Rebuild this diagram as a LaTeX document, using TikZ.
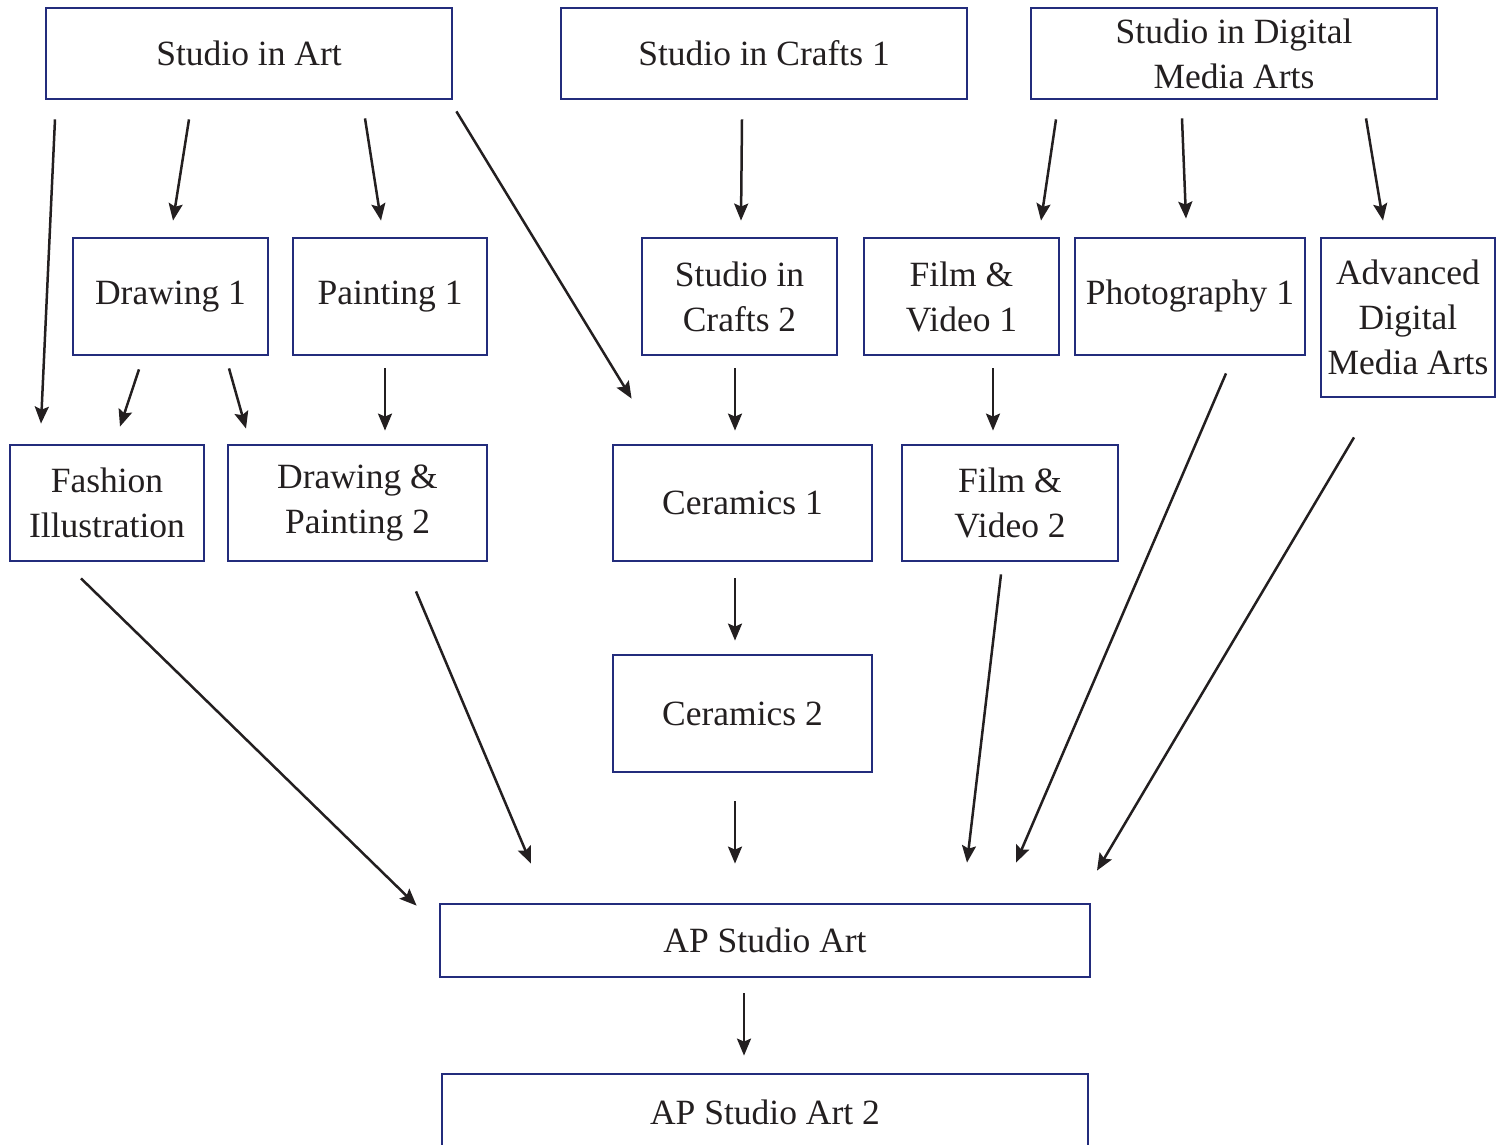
\documentclass[tikz,border=0pt]{standalone}
\usepackage{fontspec}
\setmainfont{Liberation Serif}
\usetikzlibrary{arrows.meta}
\definecolor{boxblue}{HTML}{232C7C}
\definecolor{inkgray}{HTML}{231F20}

\begin{document}
\begin{tikzpicture}[x=1pt, y=-1pt,
            course/.style={draw=boxblue, line width=2.8pt, align=center, text=inkgray, inner sep=2pt,
                font=\fontsize{35.5}{45}\selectfont},
            arr/.style={-{Stealth[length=17pt, width=14pt, inset=3pt]}, line width=2.5pt, draw=inkgray}]
            \useasboundingbox (0,0) rectangle (1505,1145);

            \node[course, minimum width=406, minimum height=91] (art) at (249,53.5) {Studio in Art};
            \node[course, minimum width=406, minimum height=91] (craftsone) at (764,53.5) {Studio in Crafts 1};
            \node[course, minimum width=406, minimum height=91] (digital) at (1234,53.5) {Studio in Digital\\Media Arts};

            \node[course, minimum width=195, minimum height=117] (drawone) at (170.5,296.5) {Drawing 1};
            \node[course, minimum width=194, minimum height=117] (paintone) at (390,296.5) {Painting 1};
            \node[course, minimum width=195, minimum height=117] (craftstwo) at (739.5,296.5) {Studio in\\Crafts 2};
            \node[course, minimum width=195, minimum height=117] (filmone) at (961.5,296.5) {Film \&\\Video 1};
            \node[course, minimum width=230, minimum height=117] (photo) at (1190,296.5) {Photography 1};
            \node[course, minimum width=174, minimum height=159] (adv) at (1408,317.5) {Advanced\\Digital\\Media Arts};

            \node[course, minimum width=194, minimum height=116] (fash) at (107,503) {Fashion\\Illustration};
            \node[course, minimum width=259, minimum height=116] (drawpaint) at (357.5,503) {Drawing \&\\Painting 2};
            \node[course, minimum width=259, minimum height=116] (ceramone) at (742.5,503) {Ceramics 1};
            \node[course, minimum width=216, minimum height=116] (filmtwo) at (1010,503) {Film \&\\Video 2};
            \node[course, minimum width=259, minimum height=117] (ceramtwo) at (742.5,713.5) {Ceramics 2};

            \node[course, minimum width=650, minimum height=73] (ap) at (765,940.5) {AP Studio Art};
            \node[course, minimum width=646, minimum height=76] (aptwo) at (765,1112) {AP Studio Art 2};

            \draw[arr] ([xshift=-194pt, yshift=-19pt]art.south) -- ([xshift=-66pt, yshift=20pt]fash.north);
            \draw[arr] ([xshift=-60pt, yshift=-19pt]art.south) -- ([xshift=2.5pt, yshift=16pt]drawone.north);
            \draw[arr] ([xshift=116pt, yshift=-18pt]art.south) -- ([xshift=-9pt, yshift=16pt]paintone.north);
            \draw[arr] ([xshift=3pt, yshift=-11pt]art.south east) -- ([xshift=20pt, yshift=45pt]ceramone.north west);
            \draw[arr] ([xshift=-22pt, yshift=-19pt]craftsone.south) -- ([xshift=1.5pt, yshift=16pt]craftstwo.north);
            \draw[arr] ([xshift=-178pt, yshift=-19pt]digital.south) -- ([xshift=79.5pt, yshift=16pt]filmone.north);
            \draw[arr] ([xshift=-52pt, yshift=-18pt]digital.south) -- ([xshift=-4pt, yshift=18pt]photo.north);
            \draw[arr] ([xshift=132pt, yshift=-18pt]digital.south) -- ([xshift=-25pt, yshift=16pt]adv.north);

            \draw[arr] ([xshift=-31.5pt, yshift=-13pt]drawone.south) -- ([xshift=13pt, yshift=17pt]fash.north);
            \draw[arr] ([xshift=58.5pt, yshift=-12pt]drawone.south) -- ([xshift=-111.5pt, yshift=15pt]drawpaint.north);
            \draw[arr] ([xshift=-5pt, yshift=-12pt]paintone.south) -- ([xshift=27.5pt, yshift=13pt]drawpaint.north);
            \draw[arr] ([xshift=-4.5pt, yshift=-12pt]craftstwo.south) -- ([xshift=-7.5pt, yshift=13pt]ceramone.north);
            \draw[arr] ([xshift=31.5pt, yshift=-12pt]filmone.south) -- ([xshift=-17pt, yshift=13pt]filmtwo.north);
            \draw[arr] ([xshift=-7.5pt, yshift=-16pt]ceramone.south) -- ([xshift=-7.5pt, yshift=13pt]ceramtwo.north);

            \draw[arr] ([xshift=-26pt, yshift=-16pt]fash.south) -- ([xshift=-22pt, yshift=-3pt]ap.north west);
            \draw[arr] ([xshift=58.5pt, yshift=-29pt]drawpaint.south) -- ([xshift=-234pt, yshift=39pt]ap.north);
            \draw[arr] ([xshift=-7.5pt, yshift=-28pt]ceramtwo.south) -- ([xshift=-30pt, yshift=39pt]ap.north);
            \draw[arr] ([xshift=-9pt, yshift=-12pt]filmtwo.south) -- ([xshift=202pt, yshift=40pt]ap.north);
            \draw[arr] ([xshift=36pt, yshift=-17pt]photo.south) -- ([xshift=251pt, yshift=40pt]ap.north);
            \draw[arr] ([xshift=-54pt, yshift=-39pt]adv.south) -- ([xshift=332pt, yshift=32pt]ap.north);
            \draw[arr] ([xshift=-21pt, yshift=-15pt]ap.south) -- ([xshift=-21pt, yshift=17pt]aptwo.north);

        \end{tikzpicture}
\end{document}
